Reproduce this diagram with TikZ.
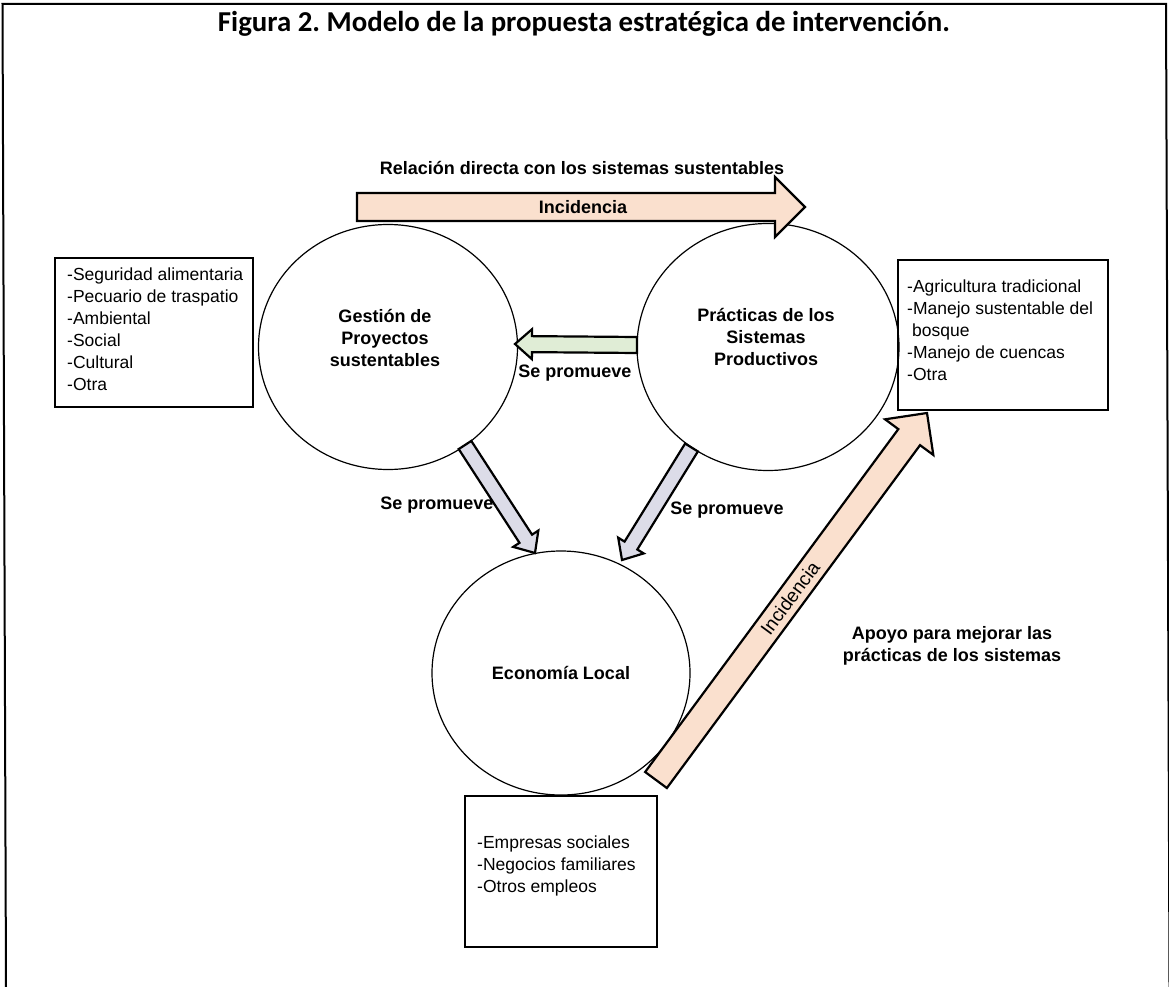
\documentclass[tikz,border=0pt]{standalone}
\usepackage{fontspec}
\setmainfont{Liberation Sans}
\newfontfamily\titlefont{Carlito}
\usetikzlibrary{calc,shapes.geometric}
\definecolor{peach}{HTML}{FAE0CE}
\definecolor{mint}{HTML}{E0EDD6}
\definecolor{lav}{HTML}{DCDCE8}
\newcommand{\blockarrow}[6]{%
  \coordinate (hb) at ($(#2)!#5!(#1)$);
  \draw[#6] ($(#1)!#3!90:(#2)$) -- ($(hb)!#3!90:(#2)$) -- ($(hb)!#4!90:(#2)$) -- (#2)
    -- ($(hb)!#4!-90:(#2)$) -- ($(hb)!#3!-90:(#2)$) -- ($(#1)!#3!-90:(#2)$) -- cycle;}
\begin{document}
\begin{tikzpicture}[x=1pt,y=-1pt,
  lbl/.style={font=\fontsize{18}{22}\selectfont\bfseries, inner sep=0, align=center},
  listtxt/.style={font=\fontsize{17.5}{22}\selectfont, inner sep=0, align=left, anchor=north west},
  listbox/.style={draw, line width=2.8pt},
  hub/.style={draw, ellipse, line width=1.2pt, inner sep=0},
  fat/.style={draw, line width=2.2pt, line join=miter}
]
\useasboundingbox (0,0) rectangle (1169,987);
\fill[white] (0,0) rectangle (1169,987);
% frame (slightly tilted scan)
\draw[line width=2pt] (6,987) -- (2.5,4) -- (1166,4) -- (1169.5,987);
% title
\node[inner sep=0] (title) at (584,24) {\resizebox{732pt}{!}{\titlefont\bfseries Figura 2.\ Modelo de la propuesta estratégica de intervención.}};

% circles
\node[hub, minimum width=259pt, minimum height=245pt] (gest) at (388,347) {};
\node[hub, minimum width=262pt, minimum height=247pt] (prac) at (768,347) {};
\node[hub, minimum width=258pt, minimum height=244pt] (eco) at (561,673) {};
\node[lbl] (gestT) at (385,338) {Gestión de\\Proyectos\\sustentables};
\node[lbl] (pracT) at (766,337) {Prácticas de los\\Sistemas\\Productivos};
\node[lbl] (ecoT) at (561,673) {Economía Local};

% boxes
\draw[listbox] (55,258) rectangle (253,407);
\node[listtxt] (leftT) at (67,268) {-Seguridad alimentaria\\-Pecuario de traspatio\\-Ambiental\\-Social\\-Cultural\\-Otra};
\draw[listbox] (898,260) rectangle (1108,410);
\node[listtxt] (rightT) at (907,280) {-Agricultura tradicional\\-Manejo sustentable del\\\hspace*{5pt}bosque\\-Manejo de cuencas\\-Otra};
\draw[listbox] (465,796) rectangle (657,947);
\node[listtxt] (botT) at (477,836) {-Empresas sociales\\-Negocios familiares\\-Otros empleos};

% arrows
\coordinate (topT) at (357,207);
\coordinate (topP) at (805,207);
\blockarrow{topT}{topP}{14pt}{30pt}{30pt}{fat, fill=peach}
\coordinate (grT) at (637,345);
\coordinate (grP) at (515,344);
\blockarrow{grT}{grP}{8pt}{15pt}{17pt}{fat, fill=mint}
\coordinate (g1T) at (465,445);
\coordinate (g1P) at (535,553);
\blockarrow{g1T}{g1P}{7.5pt}{15pt}{17pt}{fat, fill=lav}
\coordinate (g2T) at (691.5,447.5);
\coordinate (g2P) at (622,560);
\blockarrow{g2T}{g2P}{7.5pt}{15pt}{17pt}{fat, fill=lav}
\coordinate (dgT) at (656,780);
\coordinate (dgP) at (927,413);
\blockarrow{dgT}{dgP}{13.5pt}{30pt}{30pt}{fat, fill=peach}

% labels
\node[lbl] (relT) at (582,168) {Relación directa con los sistemas sustentables};
\node[lbl] (inc1) at (583,207) {Incidencia};
\node[font=\fontsize{19}{22}\selectfont, inner sep=0, rotate=53.6] (inc2) at (790,598) {Incidencia};
\node[lbl] (sp1) at (575,373) {Se promueve};
\node[lbl] (sp2) at (437,505) {Se promueve};
\node[lbl] (sp3) at (727,510) {Se promueve};
\node[lbl] (apoyo) at (952,646) {Apoyo para mejorar las\\prácticas de los sistemas};
\end{tikzpicture}
\end{document}
